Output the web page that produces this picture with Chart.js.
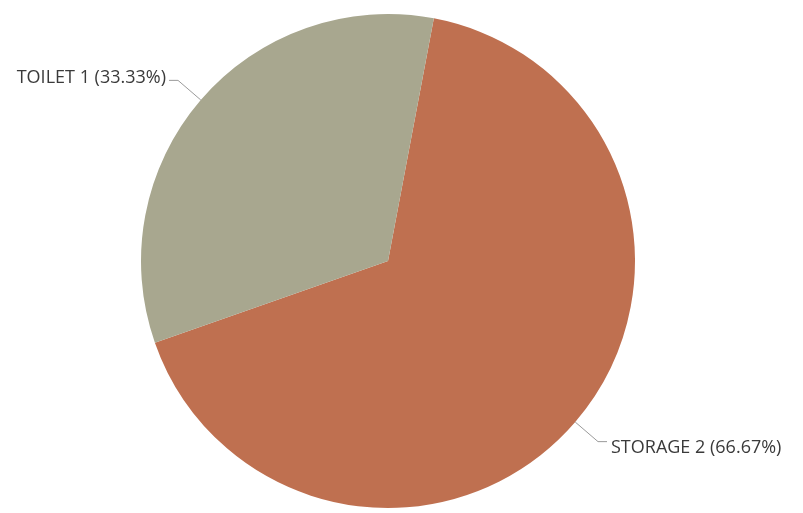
<!DOCTYPE html>
<html>
<head>
<meta charset="utf-8">
<script src="https://cdn.jsdelivr.net/npm/chart.js@4"></script>
<style>
  html, body { margin: 0; padding: 0; background: #fff; }
  #wrap { width: 803px; height: 513px; }
</style>
</head>
<body>
<div id="wrap"><canvas id="pie" width="803" height="513"></canvas></div>
<script>
const rooms = ['STORAGE 2', 'TOILET 1'];
const counts = [2, 1];
const colors = ['#bf7050', '#a8a78f'];

const total = counts.reduce((s, v) => s + v, 0);

// leader lines + labels outside the slices
const outsideLabels = {
  id: 'outsideLabels',
  afterDraw(chart) {
    const ctx = chart.ctx;
    const arcs = chart.getDatasetMeta(0).data;
    ctx.save();
    ctx.font = '18px "Open Sans", sans-serif';
    ctx.textBaseline = 'middle';
    arcs.forEach((arc, i) => {
      const mid = (arc.startAngle + arc.endAngle) / 2;
      const r = arc.outerRadius;
      const x0 = arc.x + Math.cos(mid) * r;
      const y0 = arc.y + Math.sin(mid) * r;
      const x1 = arc.x + Math.cos(mid) * (r + 30);
      const y1 = arc.y + Math.sin(mid) * (r + 30);
      const right = Math.cos(mid) >= 0;
      const x2 = x1 + (right ? 9 : -9);
      ctx.strokeStyle = '#9a9a9a';
      ctx.lineWidth = 1;
      ctx.beginPath();
      ctx.moveTo(x0, y0);
      ctx.lineTo(x1, y1);
      ctx.lineTo(x2, y1);
      ctx.stroke();
      const pct = (counts[i] / total * 100).toFixed(2);
      ctx.fillStyle = '#3a3a3a';
      ctx.textAlign = right ? 'left' : 'right';
      ctx.fillText(rooms[i] + ' (' + pct + '%)', x2 + (right ? 4 : -3), y1 + (right ? 6 : -2));
    });
    ctx.restore();
  }
};

new Chart(document.getElementById('pie'), {
  type: 'pie',
  data: {
    labels: rooms,
    datasets: [{
      data: counts,
      backgroundColor: colors,
      borderWidth: 0,
    }],
  },
  options: {
    responsive: false,
    animation: false,
    rotation: 10.7,
    layout: { padding: { left: 141, right: 168, top: 14, bottom: 5 } },
    plugins: {
      legend: { display: false },
      tooltip: { enabled: false },
    },
  },
  plugins: [outsideLabels],
});
</script>
</body>
</html>
